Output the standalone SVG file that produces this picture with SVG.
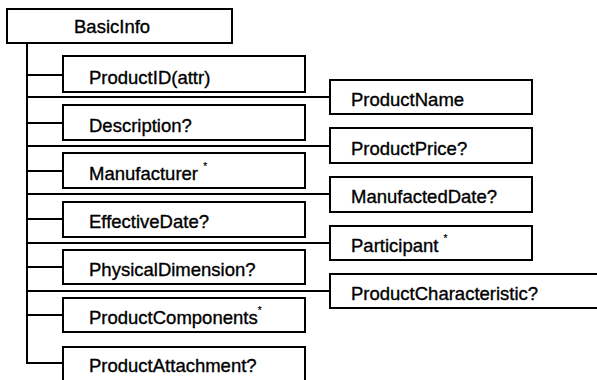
<svg xmlns="http://www.w3.org/2000/svg" width="597" height="380" viewBox="0 0 597 380">
  <style>
    .box { fill: #fff; stroke: #000; stroke-width: 2; }
    .lbl { font-family: "Liberation Sans", Arial, sans-serif; font-size: 18.5px; fill: #000; stroke: #000; stroke-width: 0.35; }
    .sup { font-size: 10px; stroke-width: 0.2; }
    .wire { fill: none; stroke: #000; stroke-width: 2; }
  </style>
  <rect width="597" height="380" fill="#fff"/>

  <!-- connectors: trunk and branches -->
  <g id="connectors" class="wire">
    <path d="M27 43 V363 H63"/>
    <path d="M27 75 H63"/>
    <path d="M27 123 H63"/>
    <path d="M27 171 H63"/>
    <path d="M27 219 H63"/>
    <path d="M27 267 H63"/>
    <path d="M27 315 H63"/>
    <path d="M27 97 H330"/>
    <path d="M27 146 H330"/>
    <path d="M27 194 H330"/>
    <path d="M27 243 H330"/>
    <path d="M27 291 H330"/>
  </g>

  <g id="BasicInfo">
    <rect class="box" x="7" y="9" width="225" height="34"/>
    <text class="lbl" x="74" y="33">BasicInfo</text>
  </g>

  <!-- left column -->
  <g id="ProductID">
    <rect class="box" x="63" y="56" width="242" height="36"/>
    <text class="lbl" x="89" y="84">ProductID(attr)</text>
  </g>
  <g id="Description">
    <rect class="box" x="63" y="105" width="242" height="35"/>
    <text class="lbl" x="89" y="132">Description?</text>
  </g>
  <g id="Manufacturer">
    <rect class="box" x="63" y="153" width="242" height="35"/>
    <text class="lbl" x="89" y="180">Manufacturer <tspan class="sup" dy="-10">*</tspan></text>
  </g>
  <g id="EffectiveDate">
    <rect class="box" x="63" y="202" width="242" height="35"/>
    <text class="lbl" x="89" y="228">EffectiveDate?</text>
  </g>
  <g id="PhysicalDimension">
    <rect class="box" x="63" y="250" width="242" height="34"/>
    <text class="lbl" x="89" y="276">PhysicalDimension?</text>
  </g>
  <g id="ProductComponents">
    <rect class="box" x="63" y="298" width="242" height="34"/>
    <text class="lbl" x="89" y="324">ProductComponents<tspan class="sup" dy="-10">*</tspan></text>
  </g>
  <g id="ProductAttachment">
    <rect class="box" x="63" y="347" width="242" height="40"/>
    <text class="lbl" x="89" y="372">ProductAttachment?</text>
  </g>

  <!-- right column -->
  <g id="ProductName">
    <rect class="box" x="330" y="80" width="202" height="34"/>
    <text class="lbl" x="351" y="106">ProductName</text>
  </g>
  <g id="ProductPrice">
    <rect class="box" x="330" y="128" width="202" height="35"/>
    <text class="lbl" x="351" y="155">ProductPrice?</text>
  </g>
  <g id="ManufactedDate">
    <rect class="box" x="330" y="177" width="202" height="35"/>
    <text class="lbl" x="351" y="203">ManufactedDate?</text>
  </g>
  <g id="Participant">
    <rect class="box" x="330" y="226" width="202" height="34"/>
    <text class="lbl" x="351" y="252">Participant <tspan class="sup" dy="-10">*</tspan></text>
  </g>
  <g id="ProductCharacteristic">
    <rect class="box" x="330" y="274" width="280" height="34"/>
    <text class="lbl" x="351" y="300">ProductCharacteristic?</text>
  </g>
</svg>
